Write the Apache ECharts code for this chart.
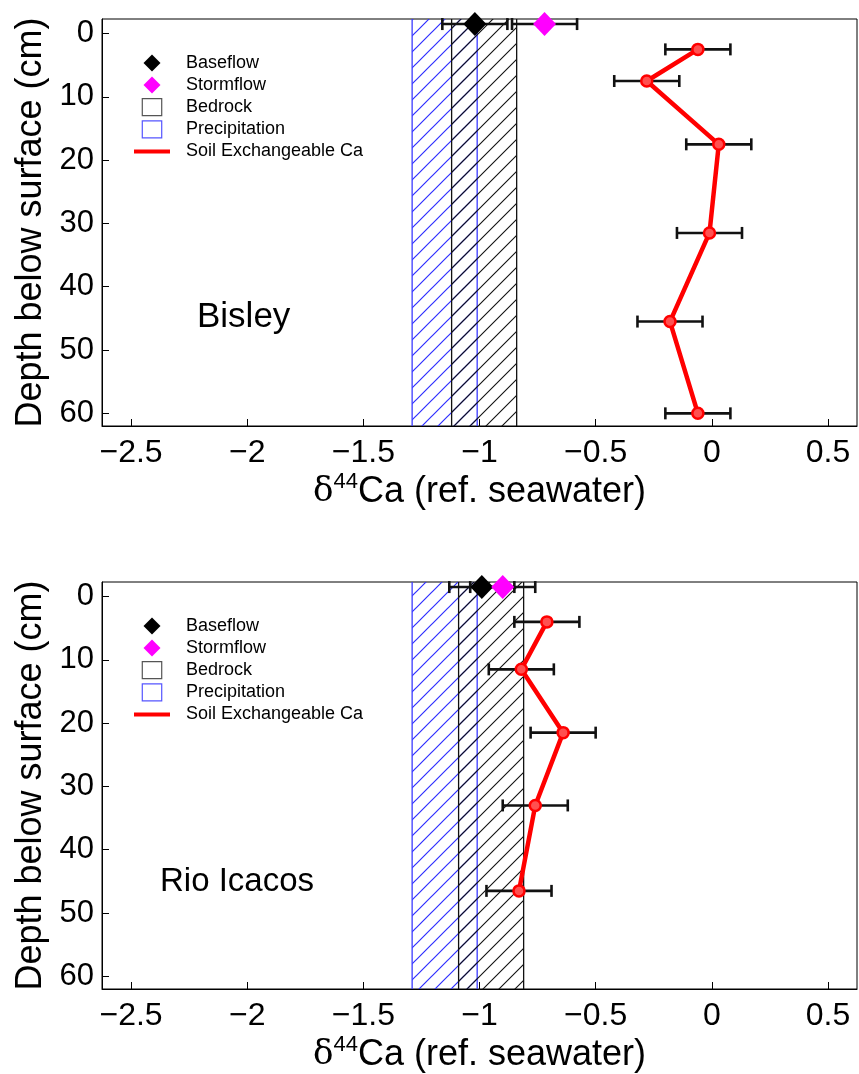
<!DOCTYPE html>
<html>
<head>
<meta charset="utf-8">
<script src="https://cdn.jsdelivr.net/npm/echarts@6/dist/echarts.min.js"></script>
<style>
  html, body { margin: 0; padding: 0; background: #fff; }
  #chart { width: 859px; height: 1074px; }
</style>
</head>
<body>
<div id="chart"></div>
<script>
// Axis ticks
const xTicks = [-2.5, -2, -1.5, -1, -0.5, 0, 0.5];
const depthTicks = [0, 10, 20, 30, 40, 50, 60];

// Panel names
const siteNames = ['Bisley', 'Rio Icacos'];

// Bisley: soil exchangeable Ca profile (delta44Ca, depth cm, 2 s.d.)
const bisleyDepth = [2.5, 7.5, 17.5, 31.5, 45.5, 60];
const bisleySoilCa = [-0.06, -0.28, 0.03, -0.01, -0.18, -0.06];
const bisleySoilErr = [0.14, 0.14, 0.14, 0.14, 0.14, 0.14];
// Bisley stream water: [baseflow, stormflow]
const bisleyStream = [-1.02, -0.72];
const bisleyStreamErr = [0.14, 0.14];
// Bisley ranges [min, max]
const bisleyBedrock = [-1.12, -0.84];
const bisleyPrecip = [-1.29, -1.01];

// Rio Icacos: soil exchangeable Ca profile
const icacosDepth = [4, 11.5, 21.5, 33, 46.5];
const icacosSoilCa = [-0.71, -0.82, -0.64, -0.76, -0.83];
const icacosSoilErr = [0.14, 0.14, 0.14, 0.14, 0.14];
// Rio Icacos stream water: [baseflow, stormflow]
const icacosStream = [-0.99, -0.90];
const icacosStreamErr = [0.14, 0.14];
// Rio Icacos ranges [min, max]
const icacosBedrock = [-1.09, -0.81];
const icacosPrecip = [-1.29, -1.01];

// Stream samples are plotted just above the soil surface
const streamDepth = -1.5;

// ---- layout ----
const X_MIN = -2.625, X_MAX = 0.625;
const Y_MIN = -2.3, Y_MAX = 62;
const gridTops = [19, 582];
const gridHeight = 407;
const FONT = '"Liberation Sans", Arial, Helvetica, sans-serif';

function hatchPattern(color, width) {
  const s = 16;
  const c = document.createElement('canvas');
  c.width = s; c.height = s;
  const g = c.getContext('2d');
  g.strokeStyle = color;
  g.lineWidth = width;
  g.beginPath();
  g.moveTo(0, s); g.lineTo(s, 0);
  g.moveTo(-s / 2, s / 2); g.lineTo(s / 2, -s / 2);
  g.moveTo(s / 2, s * 1.5); g.lineTo(s * 1.5, s / 2);
  g.stroke();
  return c;
}
const blueHatch = hatchPattern('#2f2fff', 1.2);
const blackHatch = hatchPattern('#111', 1.1);

// vertical band spanning the full depth range
function bandRenderer(fillCanvas, edgeColor) {
  return function (params, api) {
    const cs = params.coordSys;
    const a = api.coord([api.value(0), Y_MIN]);
    const b = api.coord([api.value(1), Y_MIN]);
    return {
      type: 'group',
      children: [
        { type: 'rect', shape: { x: a[0], y: cs.y, width: b[0] - a[0], height: cs.height },
          style: { fill: { image: fillCanvas, repeat: 'repeat' }, stroke: null } },
        { type: 'line', shape: { x1: a[0], y1: cs.y, x2: a[0], y2: cs.y + cs.height },
          style: { stroke: edgeColor, lineWidth: 1.3 } },
        { type: 'line', shape: { x1: b[0], y1: cs.y, x2: b[0], y2: cs.y + cs.height },
          style: { stroke: edgeColor, lineWidth: 1.3 } }
      ]
    };
  };
}

// horizontal error bar with end caps
function errorBarRender(params, api) {
  const x = api.value(0), y = api.value(1), e = api.value(2);
  const lo = api.coord([x - e, y]);
  const hi = api.coord([x + e, y]);
  const cap = 6;
  const st = { stroke: '#111', lineWidth: 2.6 };
  return {
    type: 'group',
    children: [
      { type: 'line', shape: { x1: lo[0], y1: lo[1], x2: hi[0], y2: hi[1] }, style: st },
      { type: 'line', shape: { x1: lo[0], y1: lo[1] - cap, x2: lo[0], y2: lo[1] + cap }, style: st },
      { type: 'line', shape: { x1: hi[0], y1: hi[1] - cap, x2: hi[0], y2: hi[1] + cap }, style: st }
    ]
  };
}

const panels = [
  { depth: bisleyDepth, soil: bisleySoilCa, soilErr: bisleySoilErr, stream: bisleyStream,
    streamErr: bisleyStreamErr, bedrock: bisleyBedrock, precip: bisleyPrecip },
  { depth: icacosDepth, soil: icacosSoilCa, soilErr: icacosSoilErr, stream: icacosStream,
    streamErr: icacosStreamErr, bedrock: icacosBedrock, precip: icacosPrecip }
];

const grids = [], xAxes = [], yAxes = [], series = [], legends = [], graphics = [];

const fmtX = v => (v < 0 ? '\u2212' : '') + String(Math.abs(v));

const diamondPath = 'path://M0,-1L1,0L0,1L-1,0Z';
const squarePath = 'path://M0,0H16V14H0Z';
const linePath = 'path://M0,0H36V4H0Z';

panels.forEach((p, i) => {
  grids.push({ left: 102, right: 2, top: gridTops[i], height: gridHeight,
    show: true, borderColor: '#000', borderWidth: 1, backgroundColor: '#fff' });

  xAxes.push({
    type: 'value', gridIndex: i, min: X_MIN, max: X_MAX,
    name: '{d|\u03b4}{s|44}{t|Ca (ref. seawater)}',
    nameLocation: 'middle', nameGap: 45,
    nameTextStyle: {
      rich: {
        d: { fontFamily: '"DejaVu Serif", "Liberation Serif", serif', fontSize: 34, color: '#000', lineHeight: 42 },
        s: { fontFamily: FONT, fontSize: 22, color: '#000', verticalAlign: 'top', lineHeight: 42, padding: [0, 0, 16, 0] },
        t: { fontFamily: FONT, fontSize: 36, color: '#000', lineHeight: 42 }
      }
    },
    axisLine: { show: true, onZero: false, lineStyle: { color: '#000', width: 1 } },
    axisTick: { show: true, inside: true, length: 7, customValues: xTicks, lineStyle: { color: '#000' } },
    axisLabel: { show: true, customValues: xTicks, formatter: fmtX, margin: 11,
      fontFamily: FONT, fontSize: 32, color: '#000' },
    splitLine: { show: false }
  });

  yAxes.push({
    type: 'value', gridIndex: i, min: Y_MIN, max: Y_MAX, inverse: true,
    name: 'Depth below surface (cm)', nameLocation: 'middle', nameGap: 52, nameRotate: 90,
    nameTextStyle: { fontFamily: FONT, fontSize: 36, color: '#000' },
    axisLine: { show: true, onZero: false, lineStyle: { color: '#000', width: 1 } },
    axisTick: { show: true, inside: true, length: 7, customValues: depthTicks, lineStyle: { color: '#000' } },
    axisLabel: { show: true, customValues: depthTicks, margin: 8,
      fontFamily: FONT, fontSize: 31, color: '#000' },
    splitLine: { show: false }
  });

  series.push({
    name: 'Precipitation', type: 'custom', xAxisIndex: i, yAxisIndex: i, z: 1,
    renderItem: bandRenderer(blueHatch, '#3a3aff'),
    encode: { x: [0, 1], y: 2 },
    data: [[p.precip[0], p.precip[1], 0]],
    itemStyle: { color: '#3a3aff' }, silent: true
  });
  series.push({
    name: 'Bedrock', type: 'custom', xAxisIndex: i, yAxisIndex: i, z: 2,
    renderItem: bandRenderer(blackHatch, '#111'),
    encode: { x: [0, 1], y: 2 },
    data: [[p.bedrock[0], p.bedrock[1], 0]],
    itemStyle: { color: '#333' }, silent: true
  });

  // error bars: soil profile and stream water
  series.push({
    name: 'soil-err-' + i, type: 'custom', xAxisIndex: i, yAxisIndex: i, z: 3,
    renderItem: errorBarRender, encode: { x: 0, y: 1 },
    data: p.soil.map((v, k) => [v, p.depth[k], p.soilErr[k]]), silent: true
  });
  series.push({
    name: 'stream-err-' + i, type: 'custom', xAxisIndex: i, yAxisIndex: i, z: 3,
    renderItem: errorBarRender, encode: { x: 0, y: 1 },
    data: p.stream.map((v, k) => [v, streamDepth, p.streamErr[k]]), silent: true
  });

  series.push({
    name: 'Soil Exchangeable Ca', type: 'line', xAxisIndex: i, yAxisIndex: i, z: 4,
    data: p.soil.map((v, k) => [v, p.depth[k]]),
    symbol: 'circle', symbolSize: 11, showAllSymbol: true,
    lineStyle: { color: '#ff0000', width: 4.5 },
    itemStyle: { color: '#ff5050', borderColor: '#ff0000', borderWidth: 2.5 },
    silent: true, animation: false
  });

  series.push({
    name: 'Baseflow', type: 'scatter', xAxisIndex: i, yAxisIndex: i, z: 5,
    symbol: 'diamond', symbolSize: [23, 24],
    itemStyle: { color: '#000', opacity: 1 },
    data: [[p.stream[0], streamDepth]], silent: true
  });
  series.push({
    name: 'Stormflow', type: 'scatter', xAxisIndex: i, yAxisIndex: i, z: 5,
    symbol: 'diamond', symbolSize: [23, 24],
    itemStyle: { color: '#ff00ff', opacity: 1 },
    data: [[p.stream[1], streamDepth]], silent: true
  });

  legends.push({
    orient: 'vertical', left: 129, top: gridTops[i] + 30, padding: 5,
    itemWidth: 36, itemHeight: 17, itemGap: 4, selectedMode: false,
    symbolKeepAspect: true,
    textStyle: { fontFamily: FONT, fontSize: 18, color: '#000', lineHeight: 18, padding: [0, 0, 0, 11] },
    data: [
      { name: 'Baseflow', icon: diamondPath, itemStyle: { color: '#000', opacity: 1, borderWidth: 0 } },
      { name: 'Stormflow', icon: diamondPath, itemStyle: { color: '#ff00ff', opacity: 1, borderWidth: 0 } },
      { name: 'Bedrock', icon: squarePath, itemStyle: { color: '#fff', borderColor: '#555', borderWidth: 1.2 } },
      { name: 'Precipitation', icon: squarePath, itemStyle: { color: '#fff', borderColor: '#5555ff', borderWidth: 1.2 } },
      { name: 'Soil Exchangeable Ca', icon: linePath, itemStyle: { color: '#ff0000', borderWidth: 0 } }
    ]
  });
});

graphics.push({ type: 'text', left: 197, top: 300,
  style: { text: siteNames[0], fontFamily: FONT, fontSize: 35, fill: '#000' } });
graphics.push({ type: 'text', left: 160, top: 865,
  style: { text: siteNames[1], fontFamily: FONT, fontSize: 33, fill: '#000' } });

const chart = echarts.init(document.getElementById('chart'), null, { renderer: 'canvas' });
chart.setOption({
  backgroundColor: '#fff',
  animation: false,
  grid: grids,
  xAxis: xAxes,
  yAxis: yAxes,
  legend: legends,
  series: series,
  graphic: graphics
});
</script>
</body>
</html>
